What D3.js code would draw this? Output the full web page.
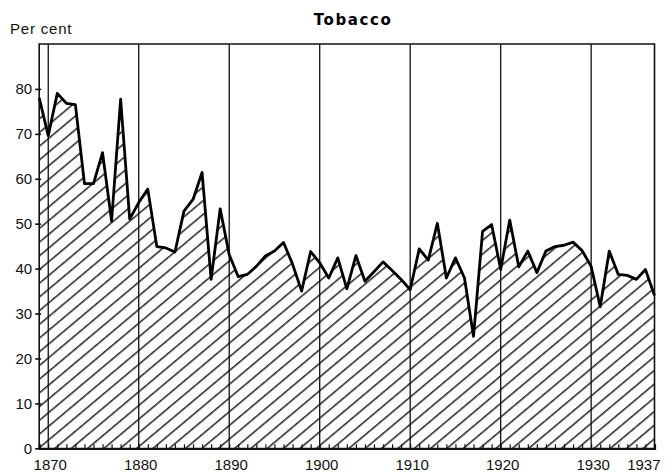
<!DOCTYPE html>
<html>
<head>
<meta charset="utf-8">
<script src="https://cdn.jsdelivr.net/npm/d3@7"></script>
<style>
  body { margin: 0; background: #fff; }
  svg { display: block; }
  .lbl { font-family: "Liberation Sans", Arial, sans-serif; font-size: 15px; fill: #111; }
</style>
</head>
<body>
<div id="chart"></div>
<script>
var years = d3.range(1869, 1938);
var values = [
  78, 69.6, 79, 76.8, 76.5, 58.9, 58.9, 65.8, 50.6, 77.7,
  51, 54.7, 57.7, 44.9, 44.6, 43.7, 52.8, 55.4, 61.4, 37.6,
  53.3, 43.1, 38.2, 38.7, 40.5, 42.8, 43.9, 45.8, 41, 35,
  43.8, 41.3, 37.9, 42.4, 35.5, 42.9, 37.2, 39.3, 41.5, 39.6,
  37.6, 35.3, 44.4, 41.9, 50.1, 37.9, 42.4, 37.9, 24.9, 48.3,
  49.8, 39.8, 50.8, 40.4, 43.9, 39.1, 43.9, 44.9, 45.2, 45.9,
  44, 40.5, 31.5, 43.9, 38.7, 38.5, 37.6, 39.8, 34
];
var decadeLines = [1870, 1880, 1890, 1900, 1910, 1920, 1930];
var xTickLabels = [1870, 1880, 1890, 1900, 1910, 1920, 1930, 1937];
var yTicks = [0, 10, 20, 30, 40, 50, 60, 70, 80];

var width = 668, height = 473;
var data = years.map(function(y, i) { return {year: y, v: values[i]}; });

var x = d3.scaleLinear().domain([1869, 1937]).range([39.2, 654.5]);
var y = d3.scaleLinear().domain([0, 90]).range([448.3, 44]);

var svg = d3.select("#chart").append("svg")
  .attr("width", width)
  .attr("height", height);

var defs = svg.append("defs");
var pat = defs.append("pattern")
  .attr("id", "hatch")
  .attr("patternUnits", "userSpaceOnUse")
  .attr("width", 10.5)
  .attr("height", 10)
  .attr("patternTransform", "rotate(50)");
pat.append("line")
  .attr("x1", 0.8).attr("y1", 0).attr("x2", 0.8).attr("y2", 10)
  .attr("stroke", "#111").attr("stroke-width", 1.4);

// title and y caption
svg.append("text")
  .attr("x", 353).attr("y", 25)
  .attr("text-anchor", "middle")
  .attr("font-family", "DejaVu Sans, sans-serif")
  .attr("font-weight", "bold")
  .attr("font-size", 15)
  .attr("letter-spacing", 1.6)
  .text("Tobacco");

svg.append("text")
  .attr("class", "lbl")
  .attr("x", 10).attr("y", 34)
  .attr("font-size", 12.5)
  .attr("letter-spacing", 0.8)
  .text("Per cent");

// decade lines
svg.append("g").selectAll("line")
  .data(decadeLines)
  .enter().append("line")
  .attr("x1", function(d) { return x(d); })
  .attr("x2", function(d) { return x(d); })
  .attr("y1", y(90))
  .attr("y2", y(0))
  .attr("stroke", "#111")
  .attr("stroke-width", 1.3);

// hatched area
var area = d3.area()
  .x(function(d) { return x(d.year); })
  .y0(y(0))
  .y1(function(d) { return y(d.v); });

svg.append("path")
  .datum(data)
  .attr("d", area)
  .attr("fill", "url(#hatch)");

var line = d3.line()
  .x(function(d) { return x(d.year); })
  .y(function(d) { return y(d.v); });

svg.append("path")
  .datum(data)
  .attr("d", line)
  .attr("fill", "none")
  .attr("stroke", "#000")
  .attr("stroke-width", 2.8)
  .attr("stroke-linejoin", "round");

// frame
svg.append("path")
  .attr("d", "M" + x(1869) + "," + y(0) + "V" + y(90) + "H" + x(1937) + "V" + y(0))
  .attr("fill", "none")
  .attr("stroke", "#111")
  .attr("stroke-width", 1.6);

// y axis
var yAxis = d3.axisLeft(y).tickValues(yTicks).tickSize(6).tickPadding(3);
var gy = svg.append("g")
  .attr("transform", "translate(" + (x(1869) + 2) + ",0)")
  .call(yAxis);
gy.select(".domain").remove();
gy.selectAll(".tick line").attr("stroke", "#111").attr("stroke-width", 1.6);
gy.selectAll(".tick text").attr("class", "lbl").attr("fill", "#111");

// x axis with yearly minor ticks pointing up
var xMinor = d3.axisBottom(x).tickValues(years).tickSize(-4).tickFormat("");
var gx = svg.append("g")
  .attr("transform", "translate(0," + y(0) + ")")
  .call(xMinor);
gx.select(".domain").attr("stroke", "#111").attr("stroke-width", 2.2);
gx.selectAll(".tick line").attr("stroke", "#111").attr("stroke-width", 1.2);

svg.append("g").selectAll("text")
  .data(xTickLabels)
  .enter().append("text")
  .attr("class", "lbl")
  .attr("x", function(d) { return d === 1937 ? x(d) + 6 : x(d) + 2; })
  .attr("y", 470)
  .attr("text-anchor", function(d) { return d === 1937 ? "end" : "middle"; })
  .text(function(d) { return d; });
</script>
</body>
</html>
